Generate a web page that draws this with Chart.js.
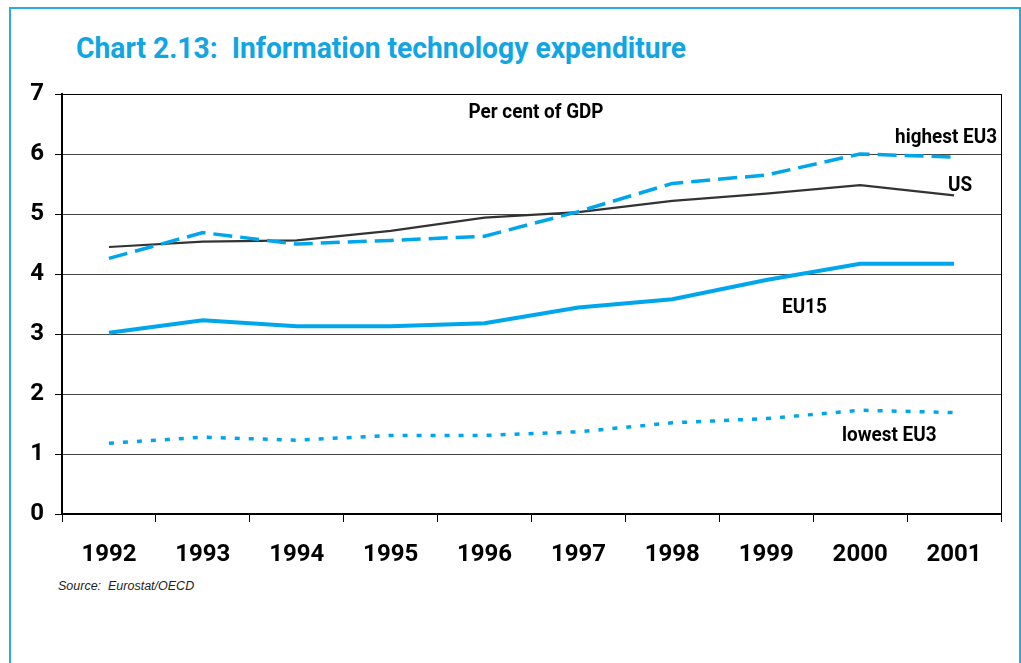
<!DOCTYPE html>
<html>
<head>
<meta charset="utf-8">
<script src="https://cdn.jsdelivr.net/npm/chart.js@4/dist/chart.umd.min.js"></script>
<style>
  html, body { margin: 0; padding: 0; background: #fff; width: 1021px; height: 663px; overflow: hidden; }
  #frame { position: absolute; left: 9px; top: 7px; width: 1008px; height: 700px; border: 2px solid #29ABE2; box-sizing: content-box; }
  #title { position: absolute; left: 76px; top: 33px; font-family: Roboto, "Open Sans", sans-serif; font-weight: bold; font-size: 30px; line-height: 30px; color: #12A5E3; white-space: pre; transform-origin: 0 0; }
  #source { position: absolute; left: 58px; top: 579px; font-family: "Liberation Sans", Arial, sans-serif; font-style: italic; font-size: 12.5px; color: #222; white-space: pre; }
  canvas { position: absolute; left: 0; top: 0; }
</style>
</head>
<body>
<div id="frame"></div>
<div id="title">Chart 2.13:  Information technology expenditure</div>
<div id="source">Source:  Eurostat/OECD</div>
<canvas id="c" width="1021" height="663"></canvas>
<script>
// ---- Data ----
const categories = ['1992', '1993', '1994', '1995', '1996', '1997', '1998', '1999', '2000', '2001'];
const usValues = [4.45, 4.54, 4.56, 4.72, 4.94, 5.03, 5.22, 5.34, 5.48, 5.31];
const highestEU3Values = [4.26, 4.69, 4.50, 4.56, 4.63, 5.04, 5.51, 5.65, 6.00, 5.95];
const eu15Values = [3.02, 3.23, 3.13, 3.13, 3.18, 3.44, 3.58, 3.90, 4.17, 4.17];
const lowestEU3Values = [1.18, 1.28, 1.23, 1.31, 1.31, 1.37, 1.52, 1.59, 1.73, 1.69];
const yTickValues = [0, 1, 2, 3, 4, 5, 6, 7];
const seriesNames = ['highest EU3', 'US', 'EU15', 'lowest EU3'];
const unitLabel = 'Per cent of GDP';

// fit title width
(function () {
  const t = document.getElementById('title');
  const w = t.getBoundingClientRect().width;
  t.style.transform = 'scaleX(' + (610 / w) + ')';
})();

const BLUE = '#00A6EB';
const FONT = 'Roboto, "Open Sans", sans-serif';

function condensedText(ctx, text, x, y, align, scaleX) {
  const w = ctx.measureText(text).width * scaleX;
  let left = x;
  if (align === 'center') left = x - w / 2;
  else if (align === 'right') left = x - w;
  ctx.save();
  ctx.translate(left, y);
  ctx.scale(scaleX, 1);
  ctx.textAlign = 'left';
  ctx.fillText(text, 0, 0);
  ctx.restore();
}

const labelsPlugin = {
  id: 'labels',
  afterDraw(chart) {
    const ctx = chart.ctx;
    const a = chart.chartArea;
    ctx.save();
    ctx.strokeStyle = '#000';
    ctx.lineWidth = 1;
    ctx.beginPath();
    ctx.moveTo(a.right + 0.5, a.top);
    ctx.lineTo(a.right + 0.5, a.bottom);
    ctx.stroke();

    ctx.fillStyle = '#000';
    ctx.font = 'bold 21px ' + FONT;
    ctx.textBaseline = 'middle';
    const sx = 0.9;
    condensedText(ctx, unitLabel, 536, 113, 'center', sx);
    condensedText(ctx, seriesNames[0], 997, 138, 'right', sx);
    condensedText(ctx, seriesNames[1], 948, 186, 'left', sx);
    condensedText(ctx, seriesNames[2], 782, 308, 'left', sx);
    condensedText(ctx, seriesNames[3], 842, 436, 'left', sx);
    ctx.restore();
  }
};

new Chart(document.getElementById('c'), {
  type: 'line',
  data: {
    labels: categories,
    datasets: [
      { label: seriesNames[0], data: highestEU3Values, borderColor: BLUE, borderWidth: 3.5, borderDash: [19, 8], borderCapStyle: 'butt' },
      { label: seriesNames[1], data: usValues, borderColor: '#333333', borderWidth: 2.2 },
      { label: seriesNames[2], data: eu15Values, borderColor: BLUE, borderWidth: 4 },
      { label: seriesNames[3], data: lowestEU3Values, borderColor: BLUE, borderWidth: 3.5, borderDash: [5, 9], borderCapStyle: 'butt' }
    ]
  },
  options: {
    responsive: false,
    devicePixelRatio: 1,
    animation: false,
    elements: { point: { radius: 0 }, line: { tension: 0 } },
    layout: { padding: { left: 0, top: 94, right: 20, bottom: 0 } },
    plugins: { legend: { display: false }, tooltip: { enabled: false }, title: { display: false } },
    scales: {
      x: {
        type: 'category',
        offset: true,
        grid: { offset: true, drawOnChartArea: false, drawTicks: true, tickLength: 8, color: '#000', lineWidth: 1 },
        border: { display: true, color: '#000', width: 2 },
        ticks: { color: '#000', font: { family: FONT, weight: 'bold', size: 24 }, padding: 19, maxRotation: 0, autoSkip: false },
        afterFit(scale) { scale.height = 149; }
      },
      y: {
        min: 0,
        max: 7,
        afterBuildTicks(scale) { scale.ticks = yTickValues.map(v => ({ value: v })); },
        grid: {
          color: ctx => (ctx.tick && ctx.tick.value === 7) ? '#000' : '#444',
          lineWidth: 1,
          tickLength: 7,
          tickColor: '#000'
        },
        border: { display: true, color: '#000', width: 2 },
        ticks: { color: '#000', font: { family: FONT, weight: 'bold', size: 24 }, padding: 11 },
        afterFit(scale) { scale.width = 62; }
      }
    }
  },
  plugins: [labelsPlugin]
});
</script>
</body>
</html>
